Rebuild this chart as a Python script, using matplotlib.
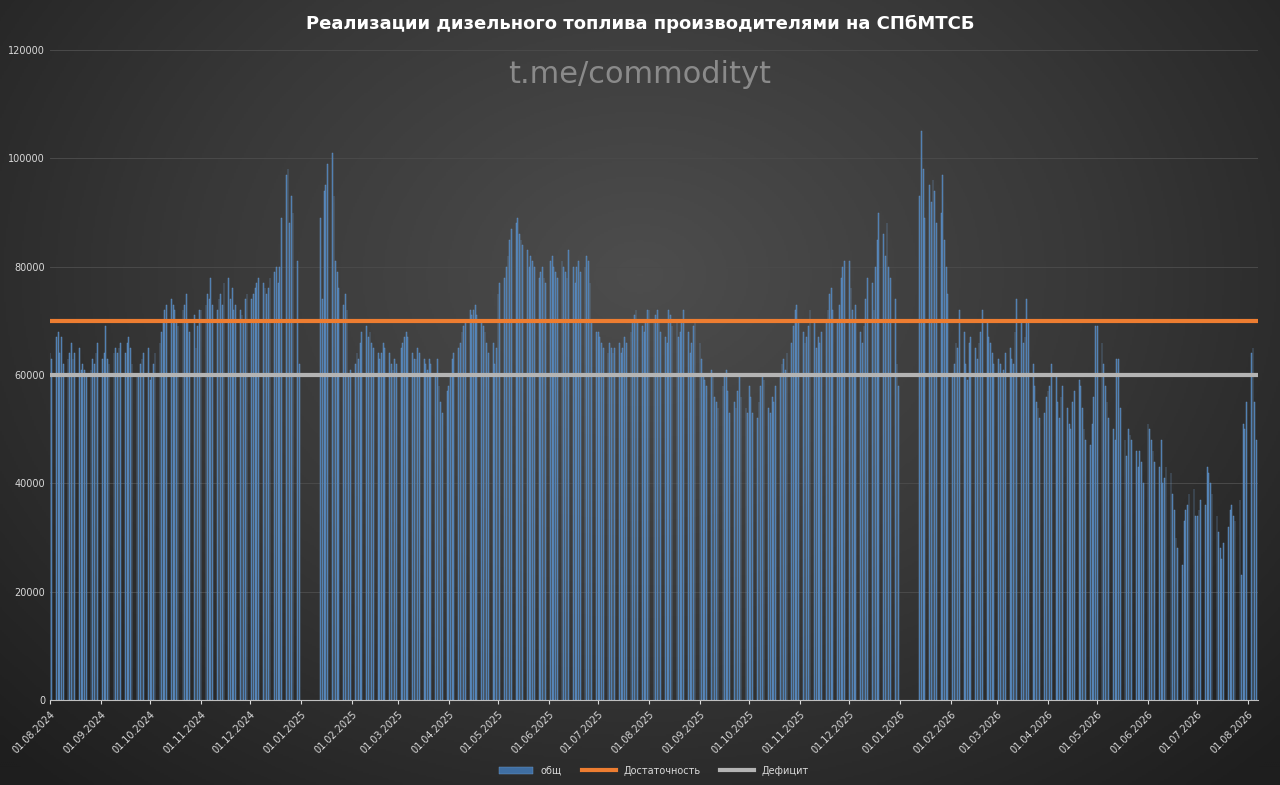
import numpy as np
import pandas as pd
import matplotlib.pyplot as plt
import matplotlib.dates as mdates
from matplotlib.colors import LinearSegmentedColormap

# daily values (thousand tonnes) per month, trading weekdays only
m2024_08 = [64, 63, 67, 68, 64, 67, 62, 63, 64, 66, 63, 64, 65, 61, 62, 61, 60, 61, 63, 62, 64, 66]
m2024_09 = [63, 64, 69, 63, 62, 64, 65, 64, 65, 66, 64, 66, 67, 65, 62, 60, 60, 62, 63, 64, 65]
m2024_10 = [59, 60, 62, 64, 66, 68, 70, 72, 73, 74, 73, 72, 70, 69, 72, 73, 75, 70, 68, 71, 65, 69, 72]
m2024_11 = [72, 73, 75, 74, 78, 73, 72, 74, 75, 73, 77, 78, 74, 76, 72, 73, 72, 71, 70, 74, 75]
m2024_12 = [74, 75, 76, 77, 78, 77, 76, 75, 76, 78, 79, 80, 77, 80, 89, 97, 98, 88, 93, 90, 81, 62]
m2025_01 = [89, 74, 94, 95, 99, 101, 93, 81, 79, 76, 73, 75, 72, 60, 61]
m2025_02 = [62, 64, 63, 66, 68, 69, 67, 68, 66, 65, 64, 63, 64, 66, 65, 64, 62, 61, 63, 62]
m2025_03 = [65, 66, 67, 68, 67, 64, 63, 63, 65, 64, 63, 62, 61, 63, 62, 60, 63, 58, 55, 53, 57]
m2025_04 = [58, 60, 63, 64, 65, 66, 68, 69, 70, 72, 71, 72, 73, 71, 70, 69, 68, 66, 64, 66, 62, 65]
m2025_05 = [75, 77, 78, 80, 82, 85, 87, 88, 89, 86, 85, 84, 83, 80, 82, 81, 80, 78, 79, 80, 78, 77]
m2025_06 = [81, 82, 80, 79, 78, 81, 80, 79, 78, 83, 80, 77, 80, 81, 79, 80, 82, 81, 77, 70, 68]
m2025_07 = [68, 67, 66, 65, 64, 66, 65, 64, 65, 66, 64, 65, 67, 66, 68, 70, 71, 72, 70, 69, 68, 70, 72]
m2025_08 = [72, 70, 71, 72, 70, 68, 67, 66, 72, 71, 69, 70, 67, 68, 70, 72, 68, 64, 66, 69, 70]
m2025_09 = [66, 63, 60, 59, 58, 61, 60, 56, 55, 54, 58, 60, 61, 57, 53, 55, 54, 57, 60, 56, 54, 53]
m2025_10 = [58, 56, 53, 52, 55, 58, 60, 59, 54, 53, 56, 55, 58, 60, 62, 63, 61, 64, 66, 69, 72, 73, 70]
m2025_11 = [68, 66, 67, 69, 72, 70, 65, 67, 66, 68, 70, 72, 75, 76, 72, 70, 73, 78, 80, 81]
m2025_12 = [81, 76, 72, 70, 73, 68, 66, 69, 74, 78, 77, 72, 80, 85, 90, 86, 82, 88, 80, 78, 74, 62, 58]
m2026_01 = [93, 105, 98, 89, 95, 92, 96, 94, 88, 90, 97, 85, 80, 75, 67]
m2026_02 = [60, 62, 66, 65, 72, 68, 62, 59, 66, 67, 65, 63, 66, 68, 72, 70, 67, 66, 64, 62]
m2026_03 = [63, 62, 60, 61, 64, 65, 63, 62, 68, 74, 70, 66, 67, 74, 70, 62, 58, 55, 54, 52, 53, 56]
m2026_04 = [57, 58, 62, 60, 55, 52, 56, 58, 54, 51, 50, 55, 57, 59, 58, 54, 50, 48, 47, 51, 56, 69]
m2026_05 = [69, 66, 62, 58, 55, 52, 50, 48, 63, 63, 54, 48, 45, 50, 49, 48, 46, 43, 46, 44, 40]
m2026_06 = [51, 50, 48, 46, 44, 43, 48, 40, 41, 43, 42, 38, 35, 30, 28, 25, 33, 35, 36, 38, 39, 34]
m2026_07 = [34, 35, 37, 36, 43, 42, 40, 38, 34, 31, 28, 26, 29, 32, 35, 36, 34, 33, 37, 23, 51, 50, 55]
m2026_08 = [64, 65, 55, 48]

months = [m2024_08, m2024_09, m2024_10, m2024_11, m2024_12, m2025_01, m2025_02,
          m2025_03, m2025_04, m2025_05, m2025_06, m2025_07, m2025_08, m2025_09,
          m2025_10, m2025_11, m2025_12, m2026_01, m2026_02, m2026_03, m2026_04,
          m2026_05, m2026_06, m2026_07, m2026_08]
month_starts = pd.date_range('2024-08-01', periods=len(months), freq='MS')
holiday_end = {'2025-01': '2025-01-13', '2026-01': '2026-01-13'}

dates, values = [], []
for ms, vals in zip(month_starts, months):
    start = pd.Timestamp(holiday_end.get(ms.strftime('%Y-%m'), ms))
    days = pd.bdate_range(start, ms + pd.offsets.MonthEnd(0))
    for d, v in zip(days, vals):
        dates.append(d)
        values.append(v * 1000)

suff = 70000
defic = 60000

fig = plt.figure(figsize=(12.8, 7.85), dpi=100)

# radial gradient background
bg = fig.add_axes([0, 0, 1, 1], zorder=-1)
yy, xx = np.mgrid[-1:1:400j, -1:1:640j]
r = np.sqrt(xx ** 2 + ((yy + 0.3) * 0.8) ** 2)
cmap = LinearSegmentedColormap.from_list('bg', ['#4d4d4d', '#383838', '#1e1e1e'])
bg.imshow(np.clip(r / 1.4, 0, 1), cmap=cmap, vmin=0, vmax=1, aspect='auto')
bg.axis('off')

ax = fig.add_axes([50 / 1280, 85 / 785, 1208 / 1280, 650 / 785])
ax.patch.set_alpha(0)
ax.bar(dates, values, width=0.5, color='#3f6ea2', edgecolor='#6f9ccc', linewidth=0.3,
       label='общ', zorder=2)
ax.axhline(suff, color='#ed7d31', lw=3, label='Достаточность', zorder=3)
ax.axhline(defic, color='#b4b4b4', lw=3, label='Дефицит', zorder=3)

ax.set_ylim(0, 120000)
ax.set_yticks(range(0, 120001, 20000))
ax.set_xlim(pd.Timestamp('2024-08-01'), pd.Timestamp('2026-08-07'))
ax.xaxis.set_major_locator(mdates.MonthLocator())
ax.xaxis.set_major_formatter(mdates.DateFormatter('%d.%m.%Y'))
plt.setp(ax.get_xticklabels(), rotation=45, ha='right', rotation_mode='anchor')
ax.tick_params(colors='#d9d9d9', labelsize=7, length=3)
ax.tick_params(axis='y', length=0)
ax.grid(axis='y', color='#4a4a4a', lw=0.7, zorder=0)
for s in ['top', 'right', 'left']:
    ax.spines[s].set_visible(False)
ax.spines['bottom'].set_color('#bfbfbf')

fig.text(0.5, 0.97, 'Реализации дизельного топлива производителями на СПбМТСБ',
         ha='center', va='center', color='white', fontsize=13, fontweight='bold')
fig.text(0.5, 0.905, 't.me/commodityt', ha='center', va='center', color='#8a8a8a', fontsize=22)

handles, labels = ax.get_legend_handles_labels()
order = [labels.index('общ'), labels.index('Достаточность'), labels.index('Дефицит')]
ax.legend([handles[i] for i in order], [labels[i] for i in order],
          loc='lower center', bbox_to_anchor=(0.5, -0.13), ncol=3, frameon=False,
          fontsize=7, labelcolor='#d9d9d9', handlelength=3.5)

fig.savefig('out.png', dpi=100)
